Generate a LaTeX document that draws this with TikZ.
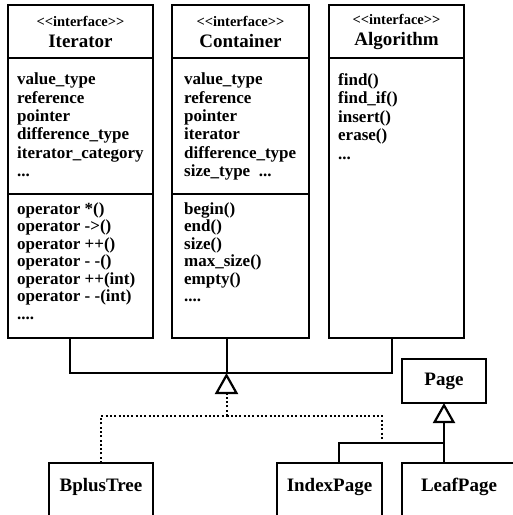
\documentclass[tikz,border=0pt]{standalone}
\usepackage{fontspec}
\setmainfont{Liberation Serif}
\usetikzlibrary{arrows.meta,positioning}

\newcommand{\ifacetag}{{\fontsize{14.5}{16}\selectfont <{}<interface>{}>}}

\begin{document}
\begin{tikzpicture}[x=1pt,y=-1pt,line join=miter]
  \tikzstyle{compart}=[draw=black,line width=2.6pt,inner sep=0pt,outer sep=0pt,anchor=north west]
  \tikzstyle{head}=[compart,align=center,font=\bfseries\fontsize{19}{21}\selectfont]
  \tikzstyle{members}=[anchor=north west,inner sep=0pt,align=left,font=\bfseries\fontsize{17}{18.5}\selectfont]
  \tikzstyle{opers}=[members,font=\bfseries\fontsize{17}{17.5}\selectfont]
  \tikzstyle{classbox}=[compart,font=\bfseries\fontsize{19}{21}\selectfont]
  \tikzstyle{leaf}=[classbox,minimum height=53.5pt,text height=12pt,text depth=9pt]
  \tikzstyle{link}=[line width=2pt]
  \tikzstyle{realize}=[line width=2pt,dash pattern=on 2pt off 2.3pt]
  \tikzstyle{gen}=[-{Triangle[open,length=21pt,width=23pt,line width=2.2pt]}]

  \useasboundingbox (0,0) rectangle (513,515);

  % interfaces
  \node[head,minimum width=145pt,minimum height=53pt] (iterhead) at (8,5) {\ifacetag\\Iterator};
  \node[compart,minimum width=145pt,minimum height=136pt] (iterattr) at (iterhead.south west) {};
  \node[compart,minimum width=145pt,minimum height=144pt] (iterops) at (iterattr.south west) {};

  \node[head,minimum width=137pt,minimum height=53pt] (conthead) at (172,5) {\ifacetag\\Container};
  \node[compart,minimum width=137pt,minimum height=136pt] (contattr) at (conthead.south west) {};
  \node[compart,minimum width=137pt,minimum height=144pt] (contops) at (contattr.south west) {};

  \node[head,minimum width=135pt,minimum height=53pt] (algohead) at (329,5) {\ifacetag\\Algorithm};
  \node[compart,minimum width=135pt,minimum height=280pt] (algobody) at (algohead.south west) {};

  \node[members] at ([xshift=9pt,yshift=-14.5pt]iterattr.north west)
    {value\_type\\reference\\pointer\\difference\_type\\iterator\_category\\...};
  \node[opers] at ([xshift=9pt,yshift=-8pt]iterops.north west)
    {operator *()\\operator ->()\\operator ++()\\operator - -()\\operator ++(int)\\operator - -(int)\\....};

  \node[members] at ([xshift=12pt,yshift=-14.5pt]contattr.north west)
    {value\_type\\reference\\pointer\\iterator\\difference\_type\\size\_type\ \ ...};
  \node[opers] at ([xshift=12pt,yshift=-8pt]contops.north west)
    {begin()\\end()\\size()\\max\_size()\\empty()\\....};

  \node[members] at ([xshift=9pt,yshift=-15pt]algobody.north west)
    {find()\\find\_if()\\insert()\\erase()\\...};

  % classes
  \node[leaf,minimum width=104pt] (bplus) at (49,463) {BplusTree};
  \node[leaf,minimum width=105pt] (index) at (277,463) {IndexPage};
  \node[leaf,minimum width=114pt,right=20pt of index] (leafpage) {LeafPage};
  \node[classbox,minimum width=84pt,minimum height=44pt,anchor=south west] (page)
    at ([yshift=60pt]leafpage.north west) {Page};

  % generalization of the interfaces
  \coordinate (apex) at ([xshift=-14pt,yshift=-35pt]contops.south);
  \draw[link] ([xshift=-10.5pt]iterops.south) |- (apex) -| ([xshift=-4.5pt]algobody.south);
  \draw[link] (contops.south -| apex) -- (apex);

  % realization
  \coordinate (dotjoin) at ([yshift=-43pt]apex);
  \coordinate (pagejoin) at ([yshift=-40pt]page.south);
  \draw[realize,gen] (dotjoin) -- (apex);
  \draw[realize] (bplus.north) |- (dotjoin);
  \draw[realize,shorten >=4pt] (dotjoin) -| (pagejoin -| index.east);

  % page hierarchy
  \draw[link,-{Triangle[open,length=20pt,width=22pt,line width=2.2pt]}] (leafpage.north -| page.south) -- (page.south);
  \draw[link] ([xshift=9.5pt]index.north) |- (pagejoin);
\end{tikzpicture}
\end{document}
